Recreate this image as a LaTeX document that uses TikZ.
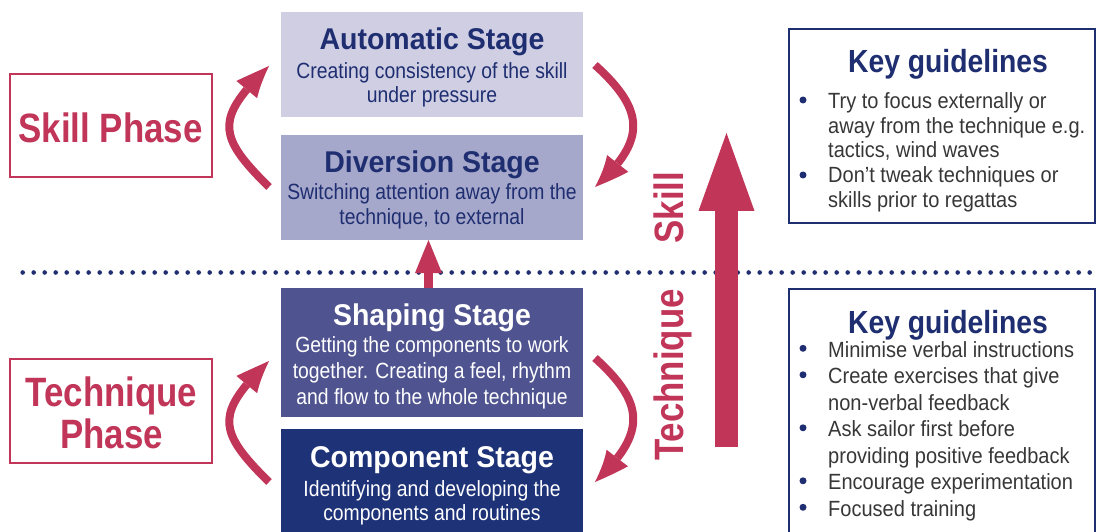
\documentclass[tikz,border=0pt]{standalone}
\usepackage{fontspec}
\setmainfont{Liberation Sans}
\newfontfamily\titlefont{Liberation Sans}[FakeStretch=0.95]
\newfontfamily\labelfont{Liberation Sans}[FakeStretch=0.85]
\newfontfamily\keyfont{Liberation Sans}[FakeStretch=0.885]
\newfontfamily\descfont{Liberation Sans}[FakeStretch=0.88]
\newfontfamily\listfont{Liberation Sans}[FakeStretch=0.91]
\usetikzlibrary{arrows.meta,bending}

\definecolor{crimson}{RGB}{193,53,89}
\definecolor{navy}{RGB}{30,46,112}
\definecolor{autofill}{RGB}{207,206,227}
\definecolor{divfill}{RGB}{166,168,203}
\definecolor{shapefill}{RGB}{79,83,143}
\definecolor{compfill}{RGB}{30,50,120}
\definecolor{bodygray}{RGB}{55,55,55}

\tikzset{
  stagebox/.style={rectangle, minimum width=302pt, inner sep=0pt, draw=none},
  stagetitle/.style={font=\titlefont\bfseries\fontsize{30}{30}\selectfont, anchor=base, inner sep=0pt},
  stagetext/.style={font=\descfont\fontsize{22}{24}\selectfont, anchor=base, inner sep=0pt},
  phasebox/.style={rectangle, draw=crimson, line width=2pt, minimum width=202pt, inner sep=0pt},
  phasetext/.style={text=crimson, font=\labelfont\bfseries\fontsize{41}{42}\selectfont, anchor=base, inner sep=0pt},
  keybox/.style={rectangle, draw=navy, line width=2.6pt, minimum width=306pt, inner sep=0pt},
  keytitle/.style={text=navy, font=\keyfont\bfseries\fontsize{32}{32}\selectfont, anchor=base, inner sep=0pt},
  bullettext/.style={text=bodygray, font=\listfont\fontsize{22}{25}\selectfont, anchor=base west, inner sep=0pt},
  bulletdot/.style={circle, fill=navy, minimum size=7pt, inner sep=0pt},
  cyclearrow/.style={draw=crimson, line width=8pt, -{Triangle[length=36pt,width=27pt,line width=0pt,bend]}},
  progressarrow/.style={draw=crimson, line width=9pt, -{Triangle[length=33pt,width=27pt,line width=0pt]}},
  bigarrow/.style={draw=crimson, line width=23pt, -{Triangle[length=78pt,width=56pt,line width=0pt]}},
  divider/.style={draw=navy, line width=4.6pt, line cap=round, dash pattern=on 0pt off 11pt},
}

\begin{document}
\begin{tikzpicture}[x=1pt,y=-1pt]
\useasboundingbox (0,0) rectangle (1096,532);
\clip (0,0) rectangle (1096,532);
\fill[white] (0,0) rectangle (1096,532);

% dotted divider between skill and technique phases
\coordinate (divl) at (22.7,272.5);
\coordinate (divr) at (1100,272.5);
\draw[divider] (divl) -- (divr);

% stage boxes
\node[stagebox, fill=autofill, minimum height=105pt] (auto) at (432,64.5) {};
\node[stagebox, fill=divfill, minimum height=105pt] (divs) at (432,187.5) {};
\node[stagebox, fill=shapefill, minimum height=129pt] (shape) at (432,352.5) {};
\node[stagebox, fill=compfill, minimum height=112pt] (comp) at (432,485) {};

\node[stagetitle, text=navy] (autot) at (432,50) {Automatic Stage};
\node[stagetext, text=navy] (autoa) at (432,79) {Creating consistency of the skill};
\node[stagetext, text=navy] (autob) at (432,103) {under pressure};

\node[stagetitle, text=navy] (divt) at (432,173) {Diversion Stage};
\node[stagetext, text=navy] (diva) at (432,200) {Switching attention away from the};
\node[stagetext, text=navy] (divb) at (432,225) {technique, to external};

\node[stagetitle, text=white] (shapet) at (432,325) {Shaping Stage};
\node[stagetext, text=white] (shapea) at (432,352) {Getting the components to work};
\node[stagetext, text=white] (shapeb) at (432,378) {together. Creating a feel, rhythm};
\node[stagetext, text=white] (shapec) at (432,404) {and flow to the whole technique};

\node[stagetitle, text=white] (compt) at (432,467) {Component Stage};
\node[stagetext, text=white] (compa) at (432,496) {Identifying and developing the};
\node[stagetext, text=white] (compb) at (432,520) {components and routines};

% phase labels
\node[phasebox, minimum height=103pt] (skillph) at (111,125.5) {};
\node[phasetext] (skillpht) at (110.5,142.7) {Skill Phase};
\node[phasebox, minimum height=104pt] (techph) at (111,411) {};
\node[phasetext] (techpha) at (111.5,406) {Technique};
\node[phasetext] (techphb) at (111.5,448) {Phase};

% cycle arrows around the skill stages
\coordinate (sl0) at (269,187); \coordinate (sl1) at (269,66);
\draw[cyclearrow] (sl0) .. controls (216,135) and (216,118) .. (sl1);
\coordinate (sr0) at (595,65); \coordinate (sr1) at (595,187);
\draw[cyclearrow] (sr0) .. controls (646,111) and (646,141) .. (sr1);

% cycle arrows around the technique stages
\coordinate (tl0) at (269,482); \coordinate (tl1) at (269,361);
\draw[cyclearrow] (tl0) .. controls (216,430) and (216,413) .. (tl1);
\coordinate (tr0) at (595,358); \coordinate (tr1) at (595,482);
\draw[cyclearrow] (tr0) .. controls (646,404) and (646,434) .. (tr1);

% progression from shaping to diversion
\coordinate (up0) at (428.5,288); \coordinate (up1) at (428.5,240);
\draw[progressarrow] (up0) -- (up1);

% technique to skill axis
\node[phasetext, rotate=90] (axskill) at (683,207.5) {Skill};
\node[phasetext, rotate=90] (axtech) at (683,375) {Technique};
\coordinate (big0) at (726.5,447); \coordinate (big1) at (726.5,133);
\draw[bigarrow] (big0) -- (big1);

% guideline boxes
\node[keybox, minimum height=194pt] (keyskill) at (942,126) {};
\node[keytitle] (keyskillt) at (948,73) {Key guidelines};
\node[bulletdot] (ks1) at (803,100) {};
\node[bullettext] (ks1a) at (828,108.3) {Try to focus externally or};
\node[bullettext] (ks1b) at (828,133.1) {away from the technique e.g.};
\node[bullettext] (ks1c) at (828,157.9) {tactics, wind waves};
\node[bulletdot] (ks2) at (803,175) {};
\node[bullettext] (ks2a) at (828,182.7) {Don’t tweak techniques or};
\node[bullettext] (ks2b) at (828,207.3) {skills prior to regattas};

\node[keybox, minimum height=270pt] (keytech) at (942,424) {};
\node[keytitle] (keytecht) at (948,333) {Key guidelines};
\node[bulletdot] (kt1) at (803,348.3) {};
\node[bullettext] (kt1a) at (828,357.3) {Minimise verbal instructions};
\node[bulletdot] (kt2) at (803,374.8) {};
\node[bullettext] (kt2a) at (828,383.8) {Create exercises that give};
\node[bullettext] (kt2b) at (828,410.3) {non-verbal feedback};
\node[bulletdot] (kt3) at (803,427.8) {};
\node[bullettext] (kt3a) at (828,436.8) {Ask sailor first before};
\node[bullettext] (kt3b) at (828,463.3) {providing positive feedback};
\node[bulletdot] (kt4) at (803,480.8) {};
\node[bullettext] (kt4a) at (828,489.8) {Encourage experimentation};
\node[bulletdot] (kt5) at (803,507.3) {};
\node[bullettext] (kt5a) at (828,516.3) {Focused training};
\end{tikzpicture}
\end{document}
